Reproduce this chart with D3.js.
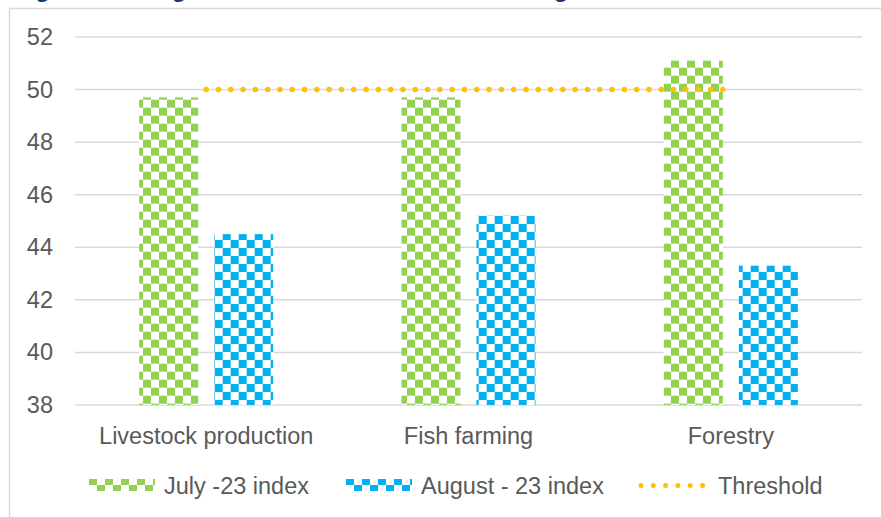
<!DOCTYPE html>
<html>
<head>
<meta charset="utf-8">
<script src="https://cdn.jsdelivr.net/npm/d3@7"></script>
<style>
  body { margin: 0; background: #fff; }
  text { font-family: "Liberation Sans", Arial, sans-serif; }
</style>
</head>
<body>
<svg id="svg" width="881" height="517"></svg>
<script>
// data
var categories = ["Livestock production", "Fish farming", "Forestry"];
var july = [49.7, 49.7, 51.1];
var august = [44.5, 45.2, 43.3];
var threshold = [50, 50, 50];
var yTicks = [38, 40, 42, 44, 46, 48, 50, 52];
var seriesNames = ["July -23 index", "August - 23 index", "Threshold"];

var green = "#92D050", blue = "#00B0F0", gold = "#FFC000";

var svg = d3.select("#svg"),
    margin = { left: 75, right: 19, top: 37, bottom: 112 },
    width = 881 - margin.left - margin.right,
    height = 517 - margin.top - margin.bottom;

// title, mostly cut off at the top (only descenders show)
svg.append("text")
    .attr("x", 14)
    .attr("y", -3)
    .style("font-size", "24px")
    .style("font-weight", "bold")
    .style("fill", "#1F3864")
    .text("Figure 4.10: Agricultural sub-sector Index in August 2023");

// chart frame
svg.append("rect")
    .attr("x", 9.5).attr("y", 8.5)
    .attr("width", 900).attr("height", 600)
    .style("fill", "none")
    .style("stroke", "#d9d9d9")
    .style("stroke-width", 1.5);

// checkerboard patterns
var defs = svg.append("defs");
function checker(id, color, x0, y0, cw, ch) {
    var p = defs.append("pattern")
        .attr("id", id)
        .attr("patternUnits", "userSpaceOnUse")
        .attr("x", x0).attr("y", y0)
        .attr("width", cw * 2).attr("height", ch * 2);
    p.append("rect").attr("width", cw * 2).attr("height", ch * 2).style("fill", "#fff");
    p.append("rect").attr("x", 0).attr("y", 0).attr("width", cw).attr("height", ch).style("fill", color);
    p.append("rect").attr("x", cw).attr("y", ch).attr("width", cw).attr("height", ch).style("fill", color);
}
checker("pGreen", green, 7, 3.7, 8, 8);
checker("pBlue", blue, 6.7, 0, 8, 8);
checker("lGreen", green, 89, 479, 8, 6);
checker("lBlue", blue, 346, 479, 8, 6);

var x = d3.scaleBand().domain(categories).range([margin.left, margin.left + width]);
var y = d3.scaleLinear().domain([38, 52]).range([margin.top + height, margin.top]);

var barW = 59, gap = 16;

// gridlines
svg.append("g").selectAll("line").data(yTicks).enter().append("line")
    .attr("x1", margin.left).attr("x2", margin.left + width)
    .attr("y1", d => y(d)).attr("y2", d => y(d))
    .style("stroke", "#d9d9d9")
    .style("stroke-width", 1.5);

// y axis labels
var yAxis = d3.axisLeft(y).tickValues(yTicks).tickSize(0).tickPadding(22);
var gy = svg.append("g").attr("transform", "translate(" + margin.left + ",0)").call(yAxis);
gy.select(".domain").remove();
gy.selectAll("text")
    .style("font-family", "'Liberation Sans', Arial, sans-serif")
    .style("font-size", "23.5px")
    .style("fill", "#595959");

// bars
var idx = d3.range(categories.length);
svg.append("g").selectAll("rect").data(idx).enter().append("rect")
    .attr("x", i => x(categories[i]) + x.bandwidth() / 2 - gap / 2 - barW)
    .attr("y", i => y(july[i]))
    .attr("width", barW)
    .attr("height", i => y(38) - y(july[i]))
    .style("fill", "url(#pGreen)");

svg.append("g").selectAll("rect").data(idx).enter().append("rect")
    .attr("x", i => x(categories[i]) + x.bandwidth() / 2 + gap / 2)
    .attr("y", i => y(august[i]))
    .attr("width", barW)
    .attr("height", i => y(38) - y(august[i]))
    .style("fill", "url(#pBlue)");

// threshold line (dotted)
var line = d3.line()
    .x(i => x(categories[i]) + x.bandwidth() / 2)
    .y(i => y(threshold[i]));
svg.append("path")
    .attr("d", line(idx))
    .style("fill", "none")
    .style("stroke", gold)
    .style("stroke-width", 5.5)
    .style("stroke-linecap", "round")
    .style("stroke-dasharray", "0 12.3");

// category axis
var xAxis = d3.axisBottom(x).tickSize(0).tickPadding(22);
var gx = svg.append("g").attr("transform", "translate(0," + (margin.top + height) + ")").call(xAxis);
gx.select(".domain").remove();
gx.selectAll("text")
    .style("font-family", "'Liberation Sans', Arial, sans-serif")
    .style("font-size", "23.5px")
    .style("fill", "#595959");

// legend
var legend = svg.append("g");
legend.append("rect").attr("x", 89).attr("y", 479).attr("width", 66).attr("height", 12)
    .style("fill", "url(#lGreen)");
legend.append("rect").attr("x", 346).attr("y", 479).attr("width", 66).attr("height", 12)
    .style("fill", "url(#lBlue)");
legend.append("line").attr("x1", 641).attr("x2", 707).attr("y1", 485.5).attr("y2", 485.5)
    .style("stroke", gold)
    .style("stroke-width", 5)
    .style("stroke-linecap", "round")
    .style("stroke-dasharray", "0 12.3");
var lx = [164, 421, 718];
legend.selectAll("text.leg").data(seriesNames).enter().append("text")
    .attr("class", "leg")
    .attr("x", (d, i) => lx[i])
    .attr("y", 494)
    .style("font-size", "23.5px")
    .style("fill", "#595959")
    .text(d => d);
</script>
</body>
</html>
